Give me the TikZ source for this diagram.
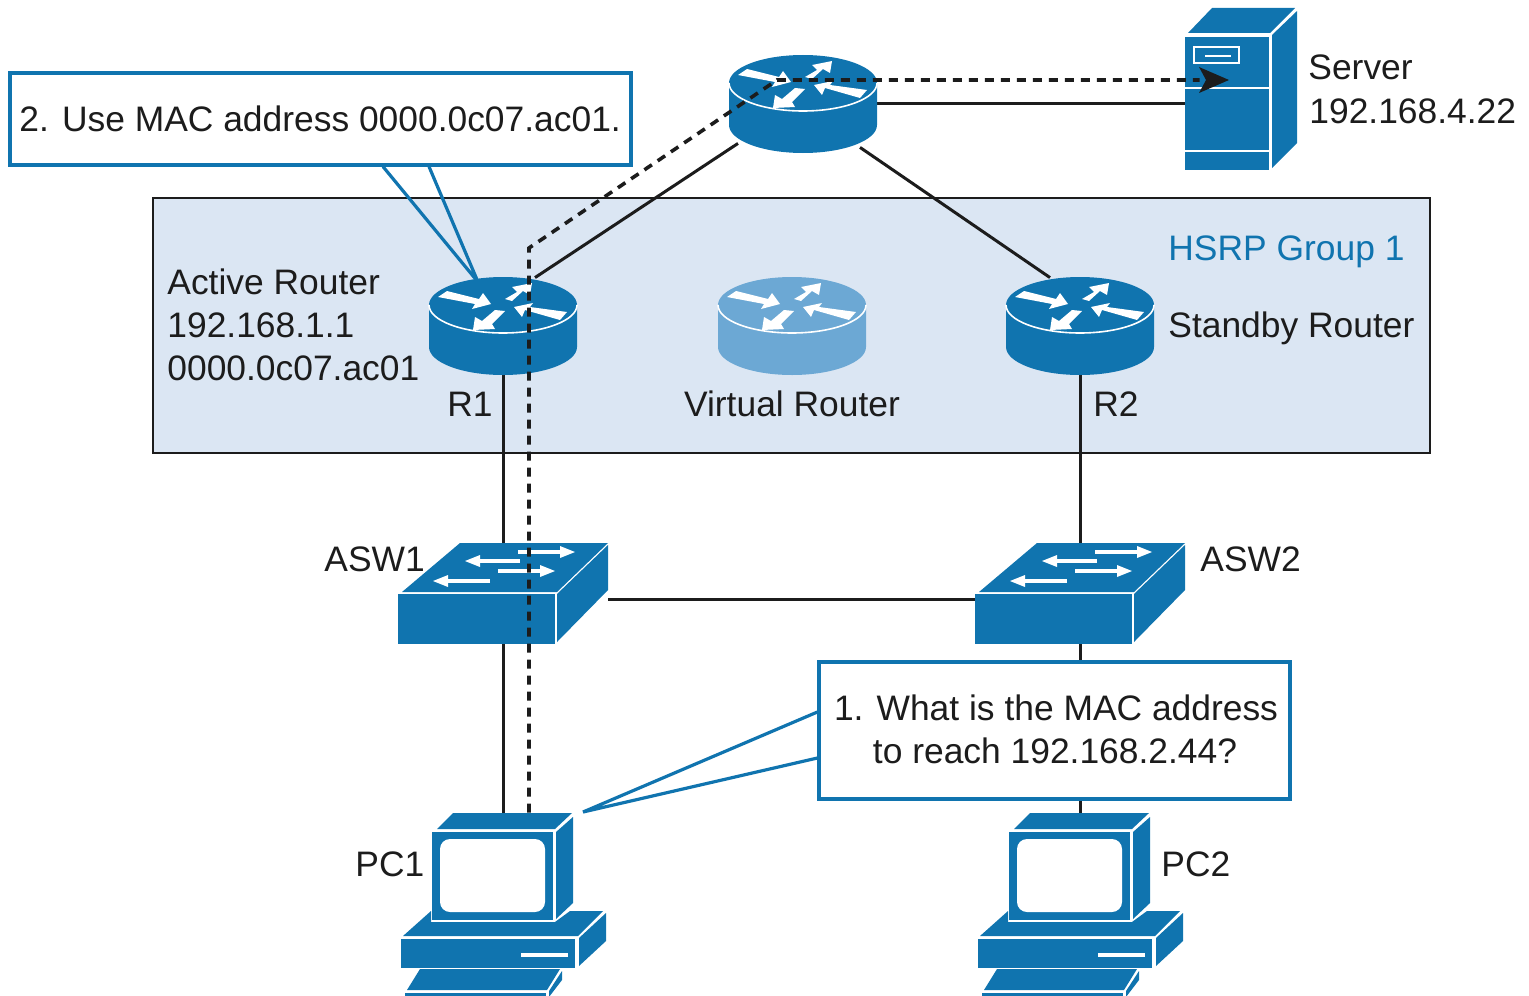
\documentclass[tikz,border=0pt]{standalone}
\usepackage{fontspec}
\setmainfont{Liberation Sans}
\usetikzlibrary{calc}
\definecolor{ciscoblue}{HTML}{1074AF}
\definecolor{lightblue}{HTML}{6CA8D4}
\definecolor{groupfill}{HTML}{DBE6F3}
\definecolor{linedark}{HTML}{1C1C1C}
\tikzset{
  x=0.5pt,y=-0.5pt,
  lbl/.style={anchor=base west,inner sep=0,font=\fontsize{17.7pt}{21.5pt}\selectfont,text=linedark},
  lblc/.style={lbl,anchor=base},
  routernode/.style={inner sep=0,minimum width=74pt,minimum height=49pt},
  link/.style={draw=linedark,line width=1.5pt},
  path2/.style={draw=linedark,line width=1.8pt,dash pattern=on 4.5pt off 3.5pt},
  callout/.style={draw=ciscoblue,line width=1.6pt,line join=miter},
  glyph/.style={fill=white,draw=none},
  glyphline/.style={draw=white,line width=1.6pt},
}
\newcommand{\routericon}[2]{% position, colour
\begin{scope}[shift={(#1)}]
  \fill[#2] (-74,-21) -- (-74,21) arc[start angle=180,end angle=0,x radius=74,y radius=28] -- (74,-21) arc[start angle=0,end angle=-180,x radius=74,y radius=28] -- cycle;
  \draw[white,line width=0.8pt] (-74,-21) arc[start angle=180,end angle=0,x radius=74,y radius=28];
  \fill[glyph] (-65,-29) -- (-56,-35) -- (-24,-27) -- (-20,-33) -- (-12,-22) -- (-31,-17) -- (-28,-22) -- cycle;
  \fill[glyph] (2,-27) -- (14,-34) -- (9,-39) -- (29,-43) -- (27,-31) -- (20,-35) -- (9,-25) -- cycle;
  \fill[glyph] (64,-14) -- (57,-6) -- (22,-16) -- (19,-9) -- (11,-19) -- (30,-23) -- (27,-19) -- cycle;
  \fill[glyph] (-8,-16) -- (2,-15) -- (-11,-2) -- (-8,3) -- (-30,4) -- (-28,-9) -- (-21,-5) -- cycle;
\end{scope}}
\newcommand{\switchicon}[1]{% centre of front top edge
\begin{scope}[shift={(#1)}]
  \fill[ciscoblue] (-101,-2) -- (-43,-51) -- (105,-51) -- (54,-2) -- cycle;
  \fill[ciscoblue] (-105,0) rectangle (52,50);
  \fill[ciscoblue] (54,0) -- (105,-49) -- (105,-4) -- (54,48) -- cycle;
  \draw[glyphline] (15,-42) -- (60,-42);
  \fill[glyph] (57,-48) -- (72,-42) -- (57,-36) -- cycle;
  \draw[glyphline] (17,-33) -- (-26,-33);
  \fill[glyph] (-23,-39) -- (-38,-33) -- (-23,-27) -- cycle;
  \draw[glyphline] (-5,-23) -- (40,-23);
  \fill[glyph] (37,-29) -- (52,-23) -- (37,-17) -- cycle;
  \draw[glyphline] (-13,-13) -- (-58,-13);
  \fill[glyph] (-55,-19) -- (-70,-13) -- (-55,-7) -- cycle;
\end{scope}}
\newcommand{\pcicon}[1]{% top-left reference of monitor front
\begin{scope}[shift={(#1)}]
  \fill[ciscoblue] (5,-3) -- (21,-19) -- (140,-19) -- (123,-3) -- cycle;
  \fill[ciscoblue] (0,0) rectangle (121,88);
  \fill[ciscoblue] (124,0) -- (141,-15) -- (141,71) -- (124,87) -- cycle;
  \fill[white,rounded corners=5pt] (8,7) rectangle (113,80);
  \fill[ciscoblue] (-29,104) -- (-1,79) -- (-1,90) -- (123,90) -- (138,79) -- (171,79) -- (146,104) -- cycle;
  \fill[ciscoblue] (-31,107) rectangle (143,136);
  \fill[ciscoblue] (147,106) -- (174,81) -- (174,109) -- (147,134) -- cycle;
  \fill[white] (89,121) rectangle (136,125);
  \fill[ciscoblue] (-25,158) -- (-12,137) -- (128,137) -- (115,158) -- cycle;
  \fill[ciscoblue] (-27,161) rectangle (114,165);
  \fill[ciscoblue] (117,159) -- (130,139) -- (130,148) -- (117,165) -- cycle;
\end{scope}}
\begin{document}
\begin{tikzpicture}
\useasboundingbox (0,0) rectangle (1529,995);
% group area
\node[draw=linedark,line width=0.6pt,fill=groupfill,inner sep=0,minimum width=638.5pt,minimum height=127.5pt] (group) at (791.5,325.5) {};
% anchors of the devices
\node[routernode] (top) at (803,104) {};
\node[routernode] (r1) at (503,326) {};
\node[routernode] (vr) at (792,326) {};
\node[routernode] (r2) at (1080,326) {};
\node[inner sep=0,minimum width=105pt,minimum height=50.5pt] (asw1) at (503,593.5) {};
\node[inner sep=0,minimum width=105pt,minimum height=50.5pt] (asw2) at (1080,593.5) {};
\node[inner sep=0,minimum width=87pt,minimum height=91pt] (pc1) at (503,904) {};
\node[inner sep=0,minimum width=87pt,minimum height=91pt] (pc2) at (1080,904) {};
\node[inner sep=0,minimum width=56pt,minimum height=81pt] (server) at (1241,89) {};
\coordinate (bendA) at (529,248);
\coordinate (bendB) at (777,80);
% solid links
\draw[link] ($(top.south)+(-65,-10)$) -- ($(r1.north)+(32,1)$);
\draw[link] ($(top.south)+(57,-6)$) -- ($(r2.north)+(-30,1)$);
\draw[link] (top.east) -- (top.east -| server.west);
\draw[link] (r1.south) -- (asw1.north);
\draw[link] (r2.south) -- (asw2.north);
\draw[link] (asw1.south) -- (pc1.north);
\draw[link] (asw2.south) -- (pc2.north);
\draw[link] ($(asw1.east)+(0,5.5)$) -- ($(asw2.west)+(0,5.5)$);
% icons
\routericon{803,104}{ciscoblue}
\routericon{503,326}{ciscoblue}
\routericon{792,326}{lightblue}
\routericon{1080,326}{ciscoblue}
\switchicon{503,594}
\switchicon{1080,594}
\pcicon{432,832}
\pcicon{1009,832}
% server
\fill[ciscoblue] (1188,33) -- (1212,8) -- (1295,8) -- (1270,33) -- cycle;
\fill[ciscoblue] (1185,37) rectangle (1269,170);
\fill[ciscoblue] (1272,35) -- (1297,11) -- (1297,143) -- (1272,168) -- cycle;
\draw[glyphline,line width=0.8pt] (1185,88) -- (1269,88);
\draw[glyphline,line width=0.8pt] (1185,151) -- (1269,151);
\draw[glyphline,line width=0.8pt] (1194,47) rectangle (1239,63);
\draw[glyphline,line width=0.8pt] (1205,56) -- (1231,56);
% dashed path
\draw[path2] ($(pc1.north)+(26,0)$) -- (bendA) -- (bendB) -- ($(server.west)+(15,-9)$);
\fill[linedark] (1229,80) -- (1199,67) -- (1206,80) -- (1199,93) -- cycle;
% callouts
\node[callout,fill=white,inner sep=0,minimum width=310.5pt,minimum height=46pt] (c2) at (320.5,119) {};
\node[callout,fill=white,inner sep=0,minimum width=235.5pt,minimum height=68.5pt] (c1) at (1054.5,730.5) {};
\coordinate (tipR) at (478,282);
\coordinate (tipP) at (583,812);
\draw[callout] ($(c2.south)+(62.5,0)$) -- (tipR) -- ($(c2.south)+(108.5,0)$);
\draw[callout] ($(c1.west)+(0,-18.5)$) -- (tipP) -- ($(c1.west)+(0,27.5)$);
% texts
\node[lbl] (t1) at (19,131) {2. Use MAC address 0000.0c07.ac01.};
\node[lbl] (t2) at (1308,80) {Server};
\node[lbl] (t3) at (1309,123) {192.168.4.22};
\node[lbl,text=ciscoblue] (t4) at (1168,260) {HSRP Group 1};
\node[lbl] (t5) at (167,294) {Active Router};
\node[lbl] (t6) at (167,337) {192.168.1.1};
\node[lbl] (t7) at (167,380) {0000.0c07.ac01};
\node[lbl] (t8) at (1168,337) {Standby Router};
\node[lbl] (t9) at (447,416) {R1};
\node[lblc] (t10) at (792,416) {Virtual Router};
\node[lbl] (t11) at (1093,416) {R2};
\node[lbl] (t12) at (324,571) {ASW1};
\node[lbl] (t13) at (1200,571) {ASW2};
\node[lbl] (t14) at (355,876) {PC1};
\node[lbl] (t15) at (1161,876) {PC2};
\node[lblc] (t16) at (1056,720) {1. What is the MAC address};
\node[lblc] (t17) at (1055,763) {to reach 192.168.2.44?};
\end{tikzpicture}
\end{document}
